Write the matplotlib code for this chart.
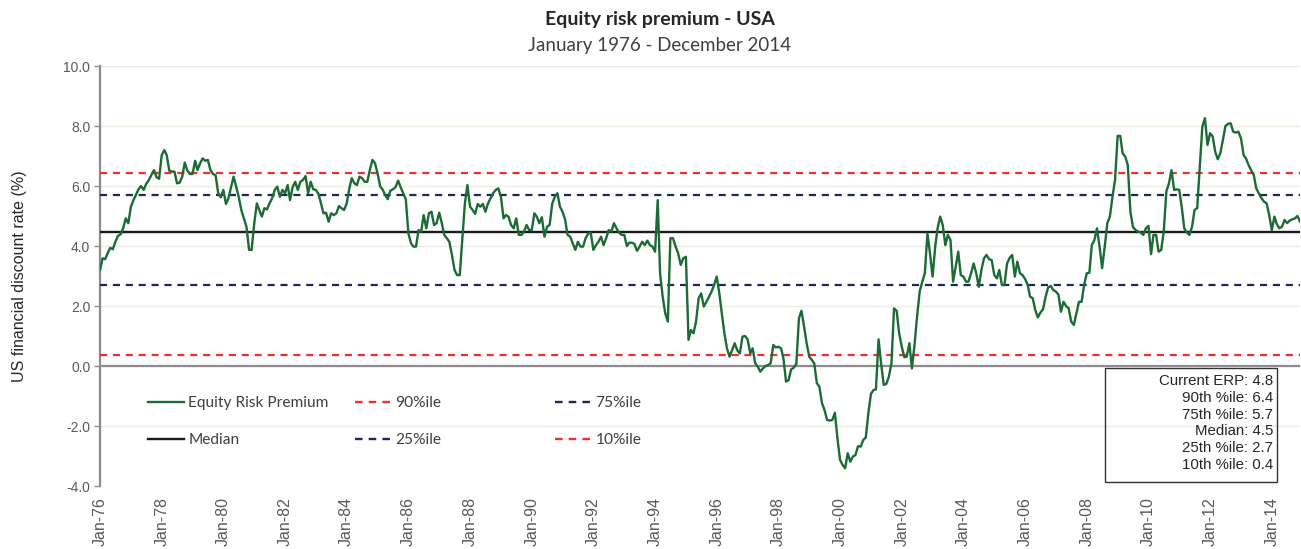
import numpy as np
import pandas as pd
import matplotlib
matplotlib.use('Agg')
import matplotlib.pyplot as plt
from matplotlib.lines import Line2D
from matplotlib.patches import Rectangle
from matplotlib.ticker import FormatStrFormatter

# ── Data: monthly equity risk premium, Jan-1976 .. Dec-2014 (one row per year) ──
erp = [
    3.20, 3.59, 3.56, 3.76, 3.94, 3.89, 4.14, 4.34, 4.39, 4.59, 4.92, 4.76,   # 1976
    5.31, 5.53, 5.70, 5.89, 6.00, 5.87, 6.07, 6.20, 6.37, 6.53, 6.29, 6.24,   # 1977
    7.03, 7.20, 7.03, 6.51, 6.48, 6.48, 6.09, 6.11, 6.31, 6.78, 6.51, 6.40,   # 1978
    6.40, 6.84, 6.53, 6.76, 6.92, 6.84, 6.87, 6.53, 6.40, 6.36, 5.76, 5.62,   # 1979
    5.87, 5.40, 5.59, 5.96, 6.31, 5.98, 5.64, 5.20, 4.92, 4.64, 3.87, 3.87,   # 1980
    4.76, 5.42, 5.20, 4.98, 5.26, 5.22, 5.42, 5.59, 5.87, 5.98, 5.64, 5.87,   # 1981
    5.76, 6.03, 5.53, 5.96, 6.14, 5.87, 6.14, 6.20, 6.33, 5.76, 6.14, 5.89,   # 1982
    5.87, 5.73, 5.44, 5.09, 5.11, 4.81, 5.09, 5.03, 5.09, 5.33, 5.26, 5.20,   # 1983
    5.42, 5.92, 6.26, 6.09, 6.03, 6.31, 6.26, 6.14, 6.14, 6.53, 6.87, 6.76,   # 1984
    6.42, 5.98, 5.89, 5.70, 5.56, 5.84, 5.89, 5.96, 6.18, 5.96, 5.76, 5.56,   # 1985
    4.42, 4.09, 3.98, 3.98, 4.53, 4.48, 5.03, 4.59, 5.09, 5.14, 4.70, 4.76,   # 1986
    5.11, 4.76, 4.37, 4.26, 4.14, 3.70, 3.20, 3.03, 3.03, 4.20, 5.42, 6.03,   # 1987
    5.31, 5.20, 5.07, 5.40, 5.31, 5.40, 5.14, 5.42, 5.59, 5.76, 5.87, 5.92,   # 1988
    5.64, 4.92, 5.03, 4.98, 4.70, 4.59, 4.92, 4.37, 4.37, 4.48, 4.70, 4.53,   # 1989
    4.53, 5.09, 4.98, 4.76, 4.96, 4.31, 4.64, 4.70, 5.42, 5.64, 5.76, 5.31,   # 1990
    5.14, 4.87, 4.37, 4.31, 4.09, 3.87, 4.14, 3.98, 3.98, 4.26, 4.42, 4.44,   # 1991
    3.87, 4.03, 4.14, 4.31, 4.03, 4.26, 4.53, 4.48, 4.76, 4.59, 4.44, 4.37,   # 1992
    4.37, 4.00, 4.11, 4.11, 4.07, 3.84, 3.98, 4.14, 4.03, 4.18, 4.03, 3.98,   # 1993
    3.81, 5.53, 3.09, 2.31, 1.76, 1.48, 4.26, 4.26, 3.98, 3.76, 3.37, 3.59,   # 1994
    3.64, 0.87, 1.20, 1.09, 1.48, 2.26, 2.42, 1.98, 2.14, 2.31, 2.48, 2.70,   # 1995
    2.98, 2.42, 1.76, 1.09, 0.59, 0.31, 0.53, 0.76, 0.52, 0.42, 0.98, 1.00,   # 1996
    0.89, 0.42, 0.59, 0.09, -0.02, -0.19, -0.08, 0.00, 0.03, 0.09, 0.70, 0.62,  # 1997
    0.64, 0.59, 0.26, -0.52, -0.47, -0.11, -0.06, 0.07, 1.59, 1.84, 1.31, 0.76,  # 1998
    0.31, 0.20, 0.09, -0.57, -0.69, -1.24, -1.47, -1.80, -1.82, -1.80, -1.56, -2.41,  # 1999
    -3.13, -3.30, -3.41, -2.91, -3.19, -3.02, -2.97, -2.67, -2.69, -2.47, -2.38, -1.58,  # 2000
    -0.93, -0.80, -0.78, 0.89, 0.09, -0.63, -0.60, -0.36, 0.09, 1.92, 1.84, 1.09,  # 2001
    0.64, 0.29, 0.31, 0.76, -0.08, 0.70, 1.64, 2.48, 2.81, 3.09, 4.42, 3.76,   # 2002
    2.98, 3.98, 4.59, 4.98, 4.70, 4.03, 4.37, 4.20, 2.81, 3.31, 3.81, 3.03,   # 2003
    2.98, 2.81, 2.81, 3.09, 3.42, 3.09, 2.64, 3.20, 3.59, 3.70, 3.56, 3.53,   # 2004
    3.03, 2.92, 3.20, 2.70, 2.70, 3.42, 3.60, 3.70, 2.98, 3.48, 3.09, 3.03,   # 2005
    2.90, 2.70, 2.31, 2.26, 1.87, 1.62, 1.78, 1.89, 2.31, 2.62, 2.67, 2.53,   # 2006
    2.48, 2.37, 1.81, 2.14, 2.00, 1.92, 1.48, 1.37, 1.76, 2.14, 2.14, 2.70,   # 2007
    3.09, 3.11, 4.03, 4.20, 4.59, 3.98, 3.26, 3.98, 4.76, 4.98, 5.64, 6.20,   # 2008
    7.67, 7.67, 7.09, 6.98, 6.70, 5.14, 4.64, 4.53, 4.48, 4.45, 4.37, 4.59,   # 2009
    4.67, 3.73, 4.37, 4.37, 3.81, 3.87, 4.48, 5.82, 6.09, 6.53, 5.87, 5.89,   # 2010
    5.87, 5.26, 4.59, 4.45, 4.37, 4.64, 5.20, 5.26, 6.65, 7.98, 8.26, 7.37,   # 2011
    7.76, 7.65, 7.15, 6.89, 7.09, 7.54, 8.00, 8.07, 8.09, 7.81, 7.78, 7.81,   # 2012
    7.59, 7.03, 6.92, 6.70, 6.53, 6.37, 5.92, 5.75, 5.59, 5.48, 5.42, 5.03,   # 2013
    4.53, 4.98, 4.73, 4.59, 4.64, 4.87, 4.76, 4.85, 4.89, 4.92, 5.00, 4.81,   # 2014
]
months = pd.date_range('1976-01-01', periods=len(erp), freq='MS')

# percentile levels of the whole history
pct_labels = ['90%ile', '75%ile', '25%ile', '10%ile']
pct_values = [6.43, 5.70, 2.70, 0.36]
median_value = 4.47

box_labels = ['Current ERP', '90th %ile', '75th %ile', 'Median', '25th %ile', '10th %ile']
box_values = [erp[-1], 6.43, 5.70, median_value, 2.70, 0.36]

# ── Style ────────────────────────────────────────────────────────────────────
W, H = 1301, 549
GREEN = '#1b6b35'
RED   = '#f0302c'
NAVY  = '#1d2857'
BLACK = '#1a1a1a'
AXIS  = '#8c8c8c'
GRID  = '#ecebe0'
TXT   = '#595959'
DASH  = (0, (3.2, 2.6))
ARIAL = ['Liberation Sans', 'DejaVu Sans']

plt.rcParams['font.family'] = ['Lato', 'DejaVu Sans']

fig = plt.figure(figsize=(W / 100, H / 100), dpi=100)
ax = fig.add_axes([100 / W, 1 - 486 / H, 1200 / W, 420 / H])

ax.plot(months, erp, color=GREEN, lw=1.7, zorder=5)

pct_colors = [RED, NAVY, NAVY, RED]
for v, c in zip(pct_values, pct_colors):
    ax.axhline(v, color=c, lw=1.6, ls=DASH, zorder=3)
ax.axhline(median_value, color=BLACK, lw=1.7, zorder=3)
ax.axhline(0, color=AXIS, lw=1.6, zorder=2)

ax.set_xlim(months[0], months[-1])
ax.set_ylim(-4, 10)
ax.set_yticks(np.arange(-4, 10.1, 2))
ax.yaxis.set_major_formatter(FormatStrFormatter('%.1f'))
ax.set_xticks(months[::24])
ax.set_xticklabels([d.strftime('%b-%y') for d in months[::24]])

ax.grid(axis='y', color=GRID, lw=1.0)
ax.grid(axis='x', visible=False)
ax.set_axisbelow(True)
for s in ['top', 'right', 'bottom']:
    ax.spines[s].set_visible(False)
ax.spines['left'].set_color(AXIS)
ax.spines['left'].set_linewidth(1.6)

ax.tick_params(axis='x', length=0, pad=8, rotation=90, labelsize=11.5, labelcolor=TXT)
ax.tick_params(axis='y', length=4, width=1, color=AXIS, labelsize=10, labelcolor=TXT, pad=3)
for lab in ax.get_xticklabels() + ax.get_yticklabels():
    lab.set_family(ARIAL)

ax.set_ylabel('US financial discount rate (%)', fontsize=11.5, color='#262626',
              labelpad=26, family=ARIAL)

# ── Titles ───────────────────────────────────────────────────────────────────
fig.text(660 / W, 1 - 20 / H, 'Equity risk premium - USA', ha='center', va='center',
         fontsize=14, fontweight='bold', color='#262626')
fig.text(660 / W, 1 - 45 / H, 'January 1976 - December 2014', ha='center', va='center',
         fontsize=13.5, color='#404040')

# ── Legend: three columns of two entries ─────────────────────────────────────
def handle(color, dashed):
    return Line2D([], [], color=color, lw=1.7, ls=DASH if dashed else '-')

columns = [
    (148, [handle(GREEN, False), handle(BLACK, False)], ['Equity Risk Premium', 'Median']),
    (355, [handle(RED, True), handle(NAVY, True)], ['90%ile', '25%ile']),
    (555, [handle(NAVY, True), handle(RED, True)], ['75%ile', '10%ile']),
]
for x0, hs, ls in columns:
    fig.legend(hs, ls, loc='upper left', bbox_to_anchor=(x0 / W, 1 - 396 / H),
               bbox_transform=fig.transFigure, frameon=False, fontsize=11.2,
               handlelength=2.3, handletextpad=0.3, labelspacing=1.5,
               borderpad=0, borderaxespad=0, labelcolor='#404040')

# ── Summary box ──────────────────────────────────────────────────────────────
fig.patches.append(Rectangle((1105 / W, 1 - 482 / H), 172 / W, 114 / H,
                             transform=fig.transFigure, fill=False,
                             edgecolor='#333333', lw=1.0, zorder=6))
for i, (lab, val) in enumerate(zip(box_labels, box_values)):
    fig.text(1273 / W, 1 - (381 + i * 16.8) / H, f'{lab}: {val:.1f}',
             ha='right', va='center', fontsize=10.8, color='#262626', family=ARIAL)

fig.savefig('out.png', dpi=100)
